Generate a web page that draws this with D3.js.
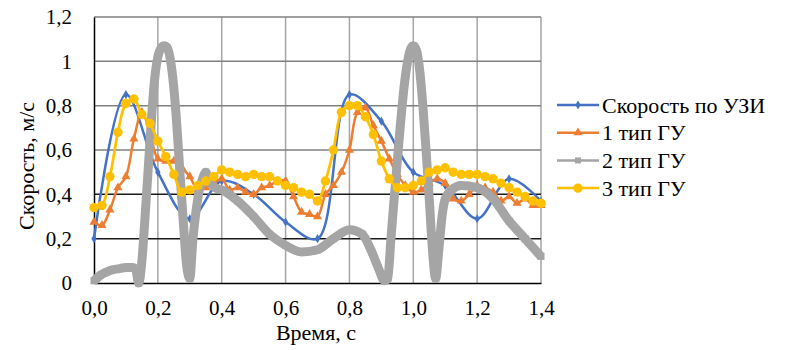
<!DOCTYPE html>
<html>
<head>
    <meta charset="UTF-8">
    <title>Скорость</title>
    <script src="https://cdnjs.cloudflare.com/ajax/libs/d3/7.8.5/d3.min.js"></script>
    <style>
        * { margin: 0; padding: 0; }
        body { background: #fff; width: 794px; height: 350px; overflow: hidden; }
    </style>
</head>
<body>
    <div id="chart"></div>
    <script>
        // Скорость по УЗИ
        const usTime = [0, 0.1, 0.2, 0.3, 0.4, 0.5, 0.6, 0.7, 0.8, 0.9, 1.0, 1.1, 1.2, 1.3, 1.4];
        const usSpeed = [0.2, 0.85, 0.5, 0.29, 0.46, 0.4, 0.275, 0.2, 0.85, 0.73, 0.5, 0.44, 0.29, 0.47, 0.37];

        // 1 тип ГУ и 3 тип ГУ (same time samples)
        const guTime = [0, 0.025, 0.05, 0.075, 0.1, 0.125, 0.15, 0.175, 0.2, 0.225, 0.25, 0.275, 0.3, 0.325, 0.35, 0.375,
            0.4, 0.425, 0.45, 0.475, 0.5, 0.525, 0.55, 0.575, 0.6, 0.625, 0.65, 0.675, 0.7, 0.725, 0.75, 0.775,
            0.8, 0.825, 0.85, 0.875, 0.9, 0.925, 0.95, 0.975, 1.0, 1.025, 1.05, 1.075, 1.1, 1.125, 1.15, 1.175,
            1.2, 1.225, 1.25, 1.275, 1.3, 1.325, 1.35, 1.375, 1.4];
        const gu1 = [0.275, 0.26, 0.33, 0.43, 0.48, 0.65, 0.77, 0.68, 0.56, 0.55, 0.55, 0.52, 0.48, 0.42, 0.43, 0.45,
            0.47, 0.42, 0.43, 0.41, 0.40, 0.43, 0.44, 0.46, 0.46, 0.39, 0.32, 0.31, 0.30, 0.40, 0.44, 0.50,
            0.60, 0.77, 0.79, 0.71, 0.64, 0.56, 0.49, 0.44, 0.41, 0.42, 0.45, 0.47, 0.45, 0.38, 0.37, 0.40,
            0.44, 0.43, 0.41, 0.37, 0.39, 0.36, 0.38, 0.35, 0.35];
        const gu3 = [0.34, 0.35, 0.48, 0.68, 0.81, 0.83, 0.76, 0.72, 0.64, 0.57, 0.49, 0.41, 0.42, 0.44, 0.46, 0.48,
            0.51, 0.50, 0.49, 0.48, 0.49, 0.48, 0.48, 0.46, 0.44, 0.43, 0.41, 0.40, 0.37, 0.46, 0.60, 0.77,
            0.80, 0.80, 0.75, 0.67, 0.55, 0.47, 0.43, 0.43, 0.44, 0.46, 0.50, 0.51, 0.52, 0.50, 0.49, 0.49,
            0.49, 0.48, 0.47, 0.45, 0.43, 0.41, 0.39, 0.37, 0.36];

        // 2 тип ГУ
        const gu2Time = [0, 0.02, 0.04, 0.06, 0.08, 0.10, 0.12, 0.13, 0.14, 0.15, 0.16, 0.17, 0.18, 0.19, 0.20, 0.21,
            0.22, 0.23, 0.24, 0.25, 0.26, 0.27, 0.28, 0.29, 0.30, 0.31, 0.32, 0.33, 0.34, 0.35, 0.36, 0.38,
            0.40, 0.45, 0.50, 0.55, 0.60, 0.65, 0.70, 0.75, 0.80, 0.84, 0.87, 0.89, 0.91, 0.92, 0.93, 0.94,
            0.95, 0.96, 0.97, 0.98, 0.99, 1.00, 1.01, 1.02, 1.03, 1.04, 1.05, 1.06, 1.07, 1.08, 1.09, 1.10,
            1.12, 1.15, 1.20, 1.25, 1.30, 1.35, 1.40];
        const gu2 = [0.01, 0.035, 0.05, 0.06, 0.065, 0.07, 0.07, 0.065, 0.0, 0.1, 0.3, 0.52, 0.74, 0.92, 1.02, 1.06,
            1.07, 1.06, 1.0, 0.88, 0.7, 0.48, 0.27, 0.08, 0.02, 0.2, 0.33, 0.42, 0.47, 0.5, 0.46, 0.43,
            0.42, 0.37, 0.3, 0.22, 0.17, 0.14, 0.15, 0.2, 0.24, 0.22, 0.14, 0.07, 0.01, 0.02, 0.2, 0.38,
            0.55, 0.72, 0.87, 0.98, 1.05, 1.07, 1.05, 0.96, 0.8, 0.6, 0.38, 0.15, 0.02, 0.15, 0.3, 0.38,
            0.42, 0.44, 0.43, 0.38, 0.28, 0.2, 0.12];

        const xTicks = [0, 0.2, 0.4, 0.6, 0.8, 1.0, 1.2, 1.4];
        const yTicks = [0, 0.2, 0.4, 0.6, 0.8, 1, 1.2];
        const seriesNames = ['Скорость по УЗИ', '1 тип ГУ', '2 тип ГУ', '3 тип ГУ'];

        const width = 794, height = 350;
        const plot = { left: 94, right: 541, top: 17, bottom: 283 };
        const serif = 'Liberation Serif';

        const svg = d3.select('#chart').append('svg')
            .attr('width', width)
            .attr('height', height);

        const x = d3.scaleLinear().domain([0, 1.4]).range([plot.left, plot.right]);
        const y = d3.scaleLinear().domain([0, 1.2]).range([plot.bottom, plot.top]);
        const fmt = d => d3.format('.1f')(d).replace('.', ',');

        // grid
        svg.append('g')
            .selectAll('line')
            .data(xTicks.slice(1))
            .enter().append('line')
            .attr('x1', d => x(d)).attr('x2', d => x(d))
            .attr('y1', plot.top).attr('y2', plot.bottom)
            .attr('stroke', '#a6a6a6').attr('stroke-width', 1.5);

        svg.append('g')
            .selectAll('line')
            .data(yTicks.slice(1))
            .enter().append('line')
            .attr('x1', plot.left).attr('x2', plot.right)
            .attr('y1', d => y(d)).attr('y2', d => y(d))
            .attr('stroke', d => d < 0.5 ? '#1a1a1a' : '#808080')
            .attr('stroke-width', 1.5);

        // axes
        const xAxis = svg.append('g')
            .attr('transform', `translate(0,${plot.bottom})`)
            .call(d3.axisBottom(x).tickValues(xTicks).tickFormat(fmt).tickSize(0).tickPadding(17));
        xAxis.select('.domain').attr('stroke', '#000').attr('stroke-width', 1.5);
        xAxis.selectAll('text')
            .attr('font-family', serif).attr('font-size', 21).attr('fill', '#000');

        const yAxis = svg.append('g')
            .attr('transform', `translate(${plot.left},0)`)
            .call(d3.axisLeft(y).tickValues(yTicks)
                .tickFormat(d => (d === 0 || d === 1) ? String(d) : fmt(d))
                .tickSize(0).tickPadding(22));
        yAxis.select('.domain').attr('stroke', '#000').attr('stroke-width', 1.5);
        yAxis.selectAll('text')
            .attr('font-family', serif).attr('font-size', 21).attr('fill', '#000');

        // titles
        svg.append('text')
            .attr('x', 316)
            .attr('y', 340)
            .attr('text-anchor', 'middle')
            .attr('font-family', serif)
            .attr('font-size', 22)
            .text('Время, с');

        svg.append('text')
            .attr('transform', 'translate(34,166) rotate(-90)')
            .attr('text-anchor', 'middle')
            .attr('font-family', serif)
            .attr('font-size', 22)
            .text('Скорость, м/с');

        // series
        const zip = (ts, vs) => ts.map((t, i) => [t, vs[i]]);
        const smooth = d3.line().x(d => x(d[0])).y(d => y(d[1])).curve(d3.curveCatmullRom.alpha(0.5));
        const mono = d3.line().x(d => x(d[0])).y(d => y(d[1])).curve(d3.curveMonotoneX);

        const series = [
            { data: zip(usTime, usSpeed), color: '#4472C4', width: 2.5, line: smooth, sym: d3.symbolDiamond, size: 24 },
            { data: zip(guTime, gu1), color: '#ED7D31', width: 2.5, line: smooth, sym: d3.symbolTriangle, size: 36 },
            { data: zip(gu2Time, gu2), color: '#A5A5A5', width: 9, line: mono, sym: d3.symbolSquare, size: 49 },
            { data: zip(guTime, gu3), color: '#FFC000', width: 2.75, line: smooth, sym: d3.symbolCircle, size: 70 }
        ];

        series.forEach(s => {
            const g = svg.append('g');
            g.append('path')
                .attr('d', s.line(s.data))
                .attr('fill', 'none')
                .attr('stroke', s.color)
                .attr('stroke-width', s.width)
                .attr('stroke-linejoin', 'round');
            g.selectAll('path.m')
                .data(s.data)
                .enter().append('path')
                .attr('class', 'm')
                .attr('transform', d => `translate(${x(d[0])},${y(d[1])})`)
                .attr('d', d3.symbol().type(s.sym).size(s.size))
                .attr('fill', s.color);
        });

        // legend
        const legend = svg.append('g').attr('transform', 'translate(557,105)');
        series.forEach((s, i) => {
            const row = legend.append('g').attr('transform', `translate(0,${i * 27.7})`);
            row.append('line')
                .attr('x1', 0).attr('x2', 42)
                .attr('stroke', s.color).attr('stroke-width', 2.5);
            row.append('path')
                .attr('transform', 'translate(21,0)')
                .attr('d', d3.symbol().type(s.sym).size(i === 2 ? 36 : s.size))
                .attr('fill', s.color);
            row.append('text')
                .attr('x', 45)
                .attr('dy', '0.35em')
                .attr('font-family', serif)
                .attr('font-size', 22)
                .text(seriesNames[i]);
        });
    </script>
</body>
</html>
